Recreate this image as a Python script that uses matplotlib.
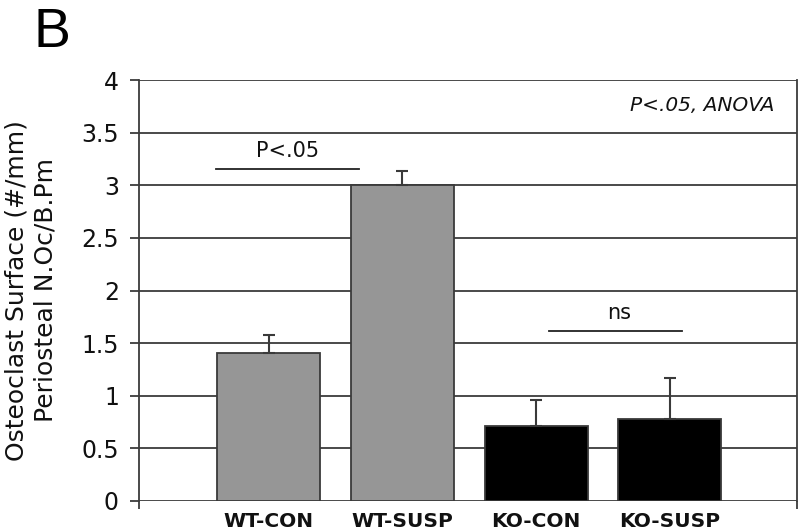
import matplotlib
matplotlib.use("Agg")
import matplotlib.pyplot as plt

categories = ["WT-CON", "WT-SUSP", "KO-CON", "KO-SUSP"]
means = [1.41, 3.00, 0.71, 0.78]
sems = [0.17, 0.135, 0.25, 0.39]
bar_colors = ["#969696", "#969696", "#000000", "#000000"]
yticks = [0, 0.5, 1, 1.5, 2, 2.5, 3, 3.5, 4]
ytick_labels = ["0", "0.5", "1", "1.5", "2", "2.5", "3", "3.5", "4"]

plt.rcParams['font.family'] = ['DejaVu Sans']
fig = plt.figure(figsize=(8, 5.32), dpi=100)
ax = fig.add_axes([139/800, 1-501/532, (797-139)/800, (501-80)/532])

x = list(range(len(categories)))
ax.set_xlim(-0.968, 3.95)
ax.set_ylim(0, 4)

grid_col = "#3c3c3c"
for t in yticks:
    ax.axhline(t, color=grid_col, lw=1.3, zorder=1)

ax.bar(x, means, width=0.77, color=bar_colors, edgecolor="#3a3a3a", linewidth=1.3, zorder=2)
ax.errorbar(x, means, yerr=[[0]*4, sems], fmt="none", ecolor="#3a3a3a",
            elinewidth=1.5, capsize=4.5, capthick=1.5, zorder=3)

for s in ["top", "bottom"]:
    ax.spines[s].set_visible(False)
ax.spines["left"].set_color(grid_col)
ax.spines["right"].set_color(grid_col)
ax.spines["left"].set_linewidth(1.3)
ax.spines["right"].set_linewidth(1.3)

ax.set_yticks(yticks)
ax.set_yticklabels(ytick_labels, fontsize=17, color="#111111")
ax.tick_params(axis="y", length=6.5, width=1.3, color=grid_col, pad=8)

ax.set_xticks(x)
ax.set_xticklabels(categories, fontsize=14.5, fontweight="bold", color="#111111")
ax.tick_params(axis="x", which="major", length=0, pad=8)
ax.set_xticks([-0.968, 3.95], minor=True)
ax.tick_params(axis="x", which="minor", length=6, width=1.3, color=grid_col)

ax.set_ylabel("Osteoclast Surface (#/mm)\nPeriosteal N.Oc/B.Pm", fontsize=18,
              linespacing=1.25, color="#111111")
ax.yaxis.set_label_coords(-0.124, 0.5)

# significance annotations
ax.plot([-0.39, 0.68], [3.155, 3.155], color="#222222", lw=1.3, zorder=3)
ax.text(0.145, 3.23, "P<.05", ha="center", va="bottom", fontsize=15, color="#111111")
ax.plot([2.1, 3.09], [1.615, 1.615], color="#222222", lw=1.3, zorder=3)
ax.text(2.62, 1.69, "ns", ha="center", va="bottom", fontsize=15, color="#111111")

ax.text(3.78, 3.76, "P<.05, ANOVA", ha="right", va="center", fontsize=14.5,
        style="italic", color="#111111")

fig.text(33/800, 1-47/532, "B", fontsize=40, family="Liberation Sans", ha="left", va="baseline")

fig.savefig("out.png", dpi=100)
